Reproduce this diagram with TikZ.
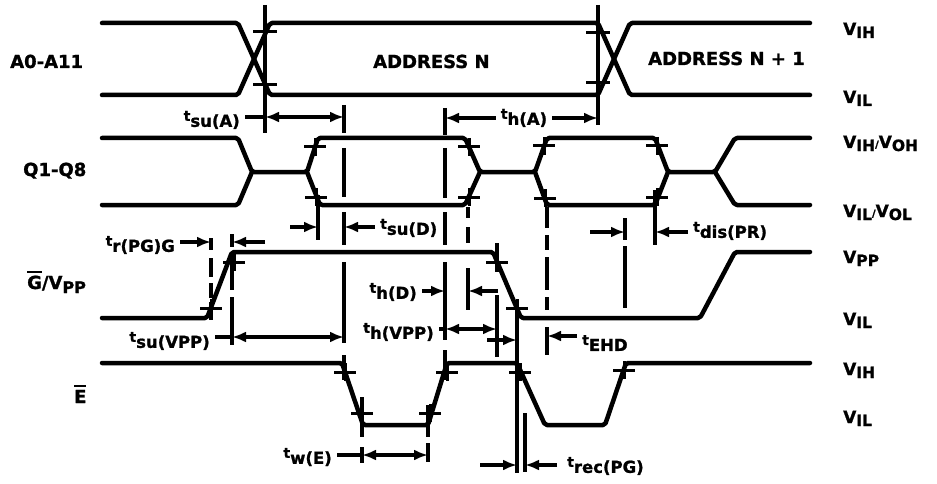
\documentclass[tikz,border=0pt]{standalone}
\usepackage{fontspec}
\setmainfont{DejaVu Sans}[BoldFeatures={FakeBold=1.2}]
\usetikzlibrary{arrows.meta}
\newcommand{\tlab}[1]{{\fontsize{14}{14}\selectfont t}\raisebox{-6pt}{\fontsize{16.5}{16.5}\selectfont #1}}
\newcommand{\vlab}[1]{{\fontsize{17}{17}\selectfont V}\raisebox{-3pt}{\fontsize{15.5}{15.5}\selectfont #1}}
\newcommand{\ovbar}[1]{\setbox0=\hbox{#1}\rlap{\rule[16pt]{\wd0}{2pt}}\box0}
\begin{document}
\begin{tikzpicture}[x=1pt,y=-1pt,
  wave/.style={line width=4.5pt, line join=round, line cap=round, rounded corners=2pt},
  rl/.style={line width=3.5pt},
  tk/.style={line width=3pt},
  ar/.style={line width=3.5pt, -{Latex[length=14pt,width=11pt]}},
  dar/.style={line width=3.5pt, {Latex[length=14pt,width=11pt]}-{Latex[length=14pt,width=11pt]}},
  lbl/.style={font=\bfseries, inner xsep=5pt, inner ysep=0pt},
  big/.style={font=\fontsize{18}{20}\selectfont\bfseries, inner sep=0pt},
  vl/.style={font=\bfseries, inner sep=0pt, anchor=base west}]
\useasboundingbox (0,0) rectangle (937,484);
\fill[white] (0,0) rectangle (937,484);

% ---------- signal names ----------
\node[big, anchor=base west] (nA) at (10,68) {A0-A11};
\node[big, anchor=base west] (nQ) at (23,176) {Q1-Q8};
\node[big, anchor=base west] (nG) at (27,289) {\ovbar{G}/V\raisebox{-4pt}{\fontsize{16}{16}\selectfont PP}};
\node[big, anchor=base west] (nE) at (74,403) {\ovbar{E}};

\node[big, anchor=base west] (adrN) at (373,68) {ADDRESS N};
\node[big, anchor=base west] (adrN1) at (648,65) {ADDRESS N + 1};

% ---------- levels ----------
\node[vl] (v1) at (843,35) {\vlab{IH}};
\node[vl] (v2) at (843,103) {\vlab{IL}};
\node[vl] (v3) at (843,148) {\vlab{IH}/\vlab{OH}};
\node[vl] (v4) at (843,217) {\vlab{IL}/\vlab{OL}};
\node[vl] (v5) at (843,263) {\vlab{PP}};
\node[vl] (v6) at (843,325) {\vlab{IL}};
\node[vl] (v7) at (843,375) {\vlab{IH}};
\node[vl] (v8) at (843,423) {\vlab{IL}};

% ---------- waveforms ----------
% A0-A11
\draw[wave] (102,23) -- (238,23) -- (270,95) -- (598,95) -- (630,23) -- (810,23);
\draw[wave] (102,95) -- (238,95) -- (270,23) -- (598,23) -- (630,95) -- (810,95);
% Q1-Q8
\draw[wave] (102,138) -- (238,138) -- (252,172) -- (307,172) -- (318,138) -- (465,138) -- (480,172)
  -- (535,172) -- (547,138) -- (655,138) -- (668,172) -- (715,172) -- (735,138) -- (810,138);
\draw[wave] (102,205) -- (238,205) -- (252,172);
\draw[wave] (307,172) -- (320,205) -- (465,205) -- (480,172);
\draw[wave] (535,172) -- (547,205) -- (655,205) -- (668,172);
\draw[wave] (715,172) -- (735,205) -- (810,205);
% G/VPP
\draw[wave] (102,318) -- (207,318) -- (232,252) -- (493,252) -- (521,318) -- (700,318) -- (735,252) -- (810,252);
% E
\draw[wave] (102,363) -- (342,363) -- (363,425) -- (428,425) -- (447,363) -- (517,363) -- (545,425)
  -- (605,425) -- (626,363) -- (810,363);

% ---------- reference lines ----------
\foreach \x/\a/\b in {265/5/133, 598/5/125,
   344/105/133, 344/148/197, 344/212/245, 344/262/343, 344/355/380,
   445/108/135, 445/148/198, 445/212/245, 445/262/340, 445/350/380,
   211/238/250, 211/258/277, 211/283/298, 211/302/320,
   232/234/247, 232/253/290, 232/297/345,
   318/195/240,
   468/207/218, 468/227/243, 468/268/310,
   497/243/272, 497/295/357,
   517/306/473, 525/413/472,
   547/207/228, 547/235/250, 547/257/290, 547/297/310, 547/327/355,
   625/218/240, 625/246/308,
   655/190/245,
   362/397/437, 362/447/463,
   428/405/437, 428/443/462}
  \draw[rl] (\x,\a) -- (\x,\b);

% ---------- ticks ----------
\foreach \x/\y in {265/32, 265/85, 598/33, 598/83}
  \draw[tk] ({\x-12},\y) -- ({\x+12},\y);
\foreach \x/\y in {315/147, 316/197, 469/147, 469/197, 544/146, 545/198, 657/146, 657/197,
   211/308, 234/262, 497/262, 517/308,
   345/372, 362/413, 430/413, 447/372, 520/372, 624/370}
  \draw[tk] ({\x-11},\y) -- ({\x+11},\y) (\x,{\y-9}) -- (\x,{\y+9});

% ---------- timing labels and arrows ----------
% tsu(A)
\node[lbl, anchor=east] (tsuA) at (245,120) {\tlab{su(A)}};
\coordinate (a1) at (265,117); \coordinate (a2) at (344,117);
\draw[rl] (tsuA.east |- a1) -- (a1);
\draw[dar] (a1) -- (a2);
% th(A)
\node[lbl] (thA) at (524,118) {\tlab{h(A)}};
\coordinate (b1) at (445,118); \coordinate (b2) at (598,118);
\draw[ar] (thA.west |- b1) -- (b1);
\draw[ar] (thA.east |- b2) -- (b2);
% tsu(D)
\node[lbl, anchor=west] (tsuD) at (375,228) {\tlab{su(D)}};
\coordinate (c0) at (290,227); \coordinate (c1) at (318,227); \coordinate (c2) at (344,227);
\draw[ar] (c0) -- (c1);
\draw[ar] (tsuD.west |- c2) -- (c2);
% tr(PG)G
\node[lbl, anchor=east] (trG) at (180,245) {\tlab{r(PG)G}};
\coordinate (d1) at (211,242); \coordinate (d2) at (232,242); \coordinate (d3) at (265,242);
\draw[ar] (trG.east |- d1) -- (d1);
\draw[ar] (d3) -- (d2);
% tdis(PR)
\node[lbl, anchor=west] (tdis) at (688,231) {\tlab{dis(PR)}};
\coordinate (e0) at (590,232); \coordinate (e1) at (625,232); \coordinate (e2) at (655,232);
\draw[ar] (e0) -- (e1);
\draw[ar] (tdis.west |- e2) -- (e2);
% th(D)
\node[lbl, anchor=east] (thD) at (422,292) {\tlab{h(D)}};
\coordinate (f1) at (445,291); \coordinate (f2) at (468,291); \coordinate (f3) at (498,291);
\draw[ar] (thD.east |- f1) -- (f1);
\draw[ar] (f3) -- (f2);
% th(VPP)
\node[lbl, anchor=east] (thV) at (439,332) {\tlab{h(VPP)}};
\coordinate (g1) at (445,329); \coordinate (g2) at (497,329);
\draw[rl] (thV.east |- g1) -- (g1);
\draw[dar] (g1) -- (g2);
% tsu(VPP)
\node[lbl, anchor=east] (tsuV) at (215,341) {\tlab{su(VPP)}};
\coordinate (h1) at (232,337); \coordinate (h2) at (344,337);
\draw[rl] (tsuV.east |- h1) -- (h1);
\draw[dar] (h1) -- (h2);
% tEHD
\node[lbl, anchor=west] (tEHD) at (577,343) {\tlab{EHD}};
\coordinate (i0) at (487,340); \coordinate (i1) at (517,340); \coordinate (i2) at (547,336);
\draw[ar] (i0) -- (i1);
\draw[ar] (tEHD.west |- i2) -- (i2);
% tw(E)
\node[lbl, anchor=east] (twE) at (337,457) {\tlab{w(E)}};
\coordinate (j1) at (362,455); \coordinate (j2) at (428,455);
\draw[rl] (twE.east |- j1) -- (j1);
\draw[dar] (j1) -- (j2);
% trec(PG)
\node[lbl, anchor=west] (trec) at (562,466) {\tlab{rec(PG)}};
\coordinate (k0) at (480,465); \coordinate (k1) at (517,465); \coordinate (k2) at (525,465); \coordinate (k3) at (557,465);
\draw[ar] (k0) -- (k1);
\draw[ar] (k3) -- (k2);
\end{tikzpicture}
\end{document}
